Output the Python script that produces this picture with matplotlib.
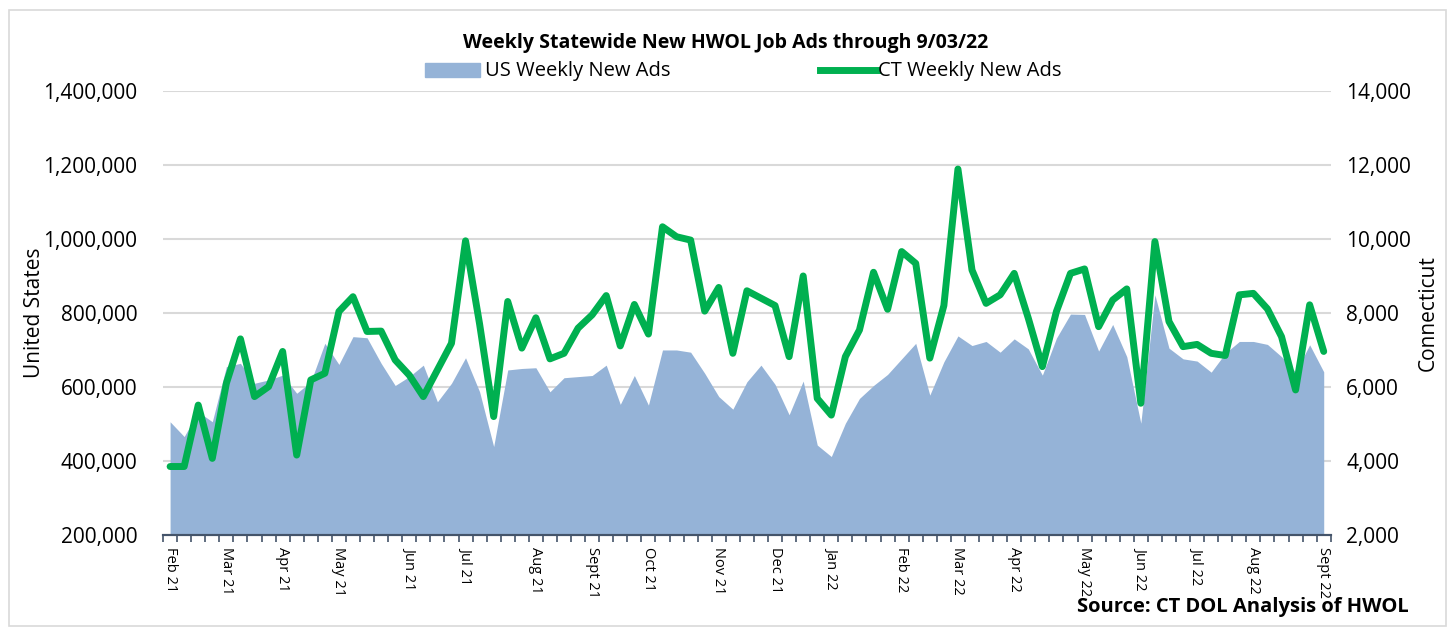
import matplotlib.pyplot as plt
from matplotlib.ticker import FuncFormatter, FixedLocator
from matplotlib.patches import Rectangle

# Weekly new HWOL job ads, week ending 2/06/21 through 9/03/22 (83 weeks)
us_ads = [
    506000, 466000, 533000, 506000, 655000, 664000, 610000, 619000, 632000, 583000,
    614000, 718000, 661000, 736000, 733000, 664000, 604000, 628000, 659000, 560000,
    610000, 679000, 587000, 439000, 646000, 650000, 652000, 587000, 625000, 628000,
    631000, 659000, 553000, 631000, 551000, 700000, 700000, 694000, 637000, 574000,
    540000, 614000, 659000, 607000, 525000, 616000, 443000, 412000, 502000, 569000,
    604000, 634000, 676000, 718000, 578000, 668000, 738000, 712000, 723000, 694000,
    730000, 703000, 632000, 732000, 797000, 796000, 697000, 769000, 682000, 502000,
    849000, 705000, 676000, 670000, 640000, 691000, 723000, 723000, 715000, 682000,
    640000, 714000, 641000,
]
ct_ads = [
    3850, 3850, 5510, 4070, 6100, 7300, 5740, 6010, 6960, 4160,
    6190, 6370, 8040, 8440, 7500, 7510, 6730, 6320, 5740, 6460,
    7180, 9950, 7700, 5200, 8310, 7050, 7870, 6760, 6910, 7590,
    7950, 8470, 7110, 8230, 7430, 10330, 10060, 9970, 8050, 8690,
    6910, 8600, 8400, 8200, 6820, 9000, 5690, 5240, 6820, 7540,
    9100, 8100, 9660, 9340, 6780, 8200, 11890, 9160, 8260, 8490,
    9070, 7860, 6550, 8040, 9070, 9190, 7630, 8350, 8650, 5560,
    9930, 7770, 7090, 7150, 6910, 6850, 8490, 8530, 8110, 7360,
    5920, 8220, 6960,
]
month_labels = ["Feb 21", "Mar 21", "Apr 21", "May 21", "Jun 21", "Jul 21", "Aug 21",
                "Sept 21", "Oct 21", "Nov 21", "Dec 21", "Jan 22", "Feb 22", "Mar 22",
                "Apr 22", "May 22", "Jun 22", "Jul 22", "Aug 22", "Sept 22"]
# week index of the first week ending in each month
month_pos = [0, 4, 8, 12, 17, 21, 26, 30, 34, 39, 43, 47, 52, 56, 60, 65, 69, 73, 77, 82]

plt.rcParams['font.family'] = ['Open Sans', 'DejaVu Sans']

fig = plt.figure(figsize=(14.52, 6.34), dpi=100)
fig.patches.append(Rectangle((0.006, 0.013), 0.99, 0.972, transform=fig.transFigure,
                             fill=False, edgecolor="#D9D9D9", linewidth=1.2))
ax = fig.add_axes([0.1123, 0.1562, 0.8042, 0.7003])
ax2 = ax.twinx()

x = list(range(len(us_ads)))
ax.fill_between(x, 200000, us_ads, color="#95B3D7", linewidth=0, zorder=2)
ax2.plot(x, ct_ads, color="#00B050", linewidth=5, solid_joinstyle="round",
         solid_capstyle="round", zorder=3)

ax.set_xlim(-0.5, len(us_ads) - 0.5)
ax.set_ylim(200000, 1400000)
ax2.set_ylim(2000, 14000)
ax.set_yticks(range(200000, 1400001, 200000))
ax2.set_yticks(range(2000, 14001, 2000))
ax.yaxis.set_major_formatter(FuncFormatter(lambda v, _: f"{int(v):,}"))
ax2.yaxis.set_major_formatter(FuncFormatter(lambda v, _: f"{int(v):,}"))
ax.grid(axis="y", color="#D9D9D9", linewidth=1.5, zorder=0)
ax.set_axisbelow(True)

# weekly tick marks between categories, month labels on their weeks
ax.xaxis.set_major_locator(FixedLocator(month_pos))
ax.set_xticklabels(month_labels, rotation=270, fontsize=10.5, va="top", ha="center")
ax.tick_params(axis="x", which="major", length=0, pad=9)
ax.xaxis.set_minor_locator(FixedLocator([i - 0.5 for i in range(len(us_ads) + 1)]))
ax.tick_params(axis="x", which="minor", length=5, width=1.2, color="#44546A")

for a in (ax, ax2):
    for side in ("top", "left", "right"):
        a.spines[side].set_visible(False)
    a.spines["bottom"].set_color("#44546A")
    a.spines["bottom"].set_linewidth(1.5)
ax.tick_params(axis="y", length=0, labelsize=15, pad=18.5)
ax2.tick_params(axis="y", length=0, labelsize=15, pad=11)

ax.set_ylabel("United States", fontsize=15, labelpad=-1)
ax2.set_ylabel("Connecticut", fontsize=15, rotation=90, labelpad=5)

fig.text(0.5, 0.932, "Weekly Statewide New HWOL Job Ads through 9/03/22",
         ha="center", va="center", fontsize=14, fontweight="bold")

# legend
fig.patches.append(Rectangle((0.2925, 0.878), 0.038, 0.022, transform=fig.transFigure,
                             color="#95B3D7"))
fig.text(0.334, 0.888, "US Weekly New Ads", ha="left", va="center", fontsize=14.5)
fig.lines.append(plt.Line2D([0.565, 0.604], [0.889, 0.889], transform=fig.transFigure,
                            color="#00B050", linewidth=5))
fig.text(0.605, 0.888, "CT Weekly New Ads", ha="left", va="center", fontsize=14.5)

fig.text(0.97, 0.043, "Source: CT DOL Analysis of HWOL", ha="right", va="center",
         fontsize=14.5, fontweight="bold")

fig.savefig("out.png", dpi=100)
